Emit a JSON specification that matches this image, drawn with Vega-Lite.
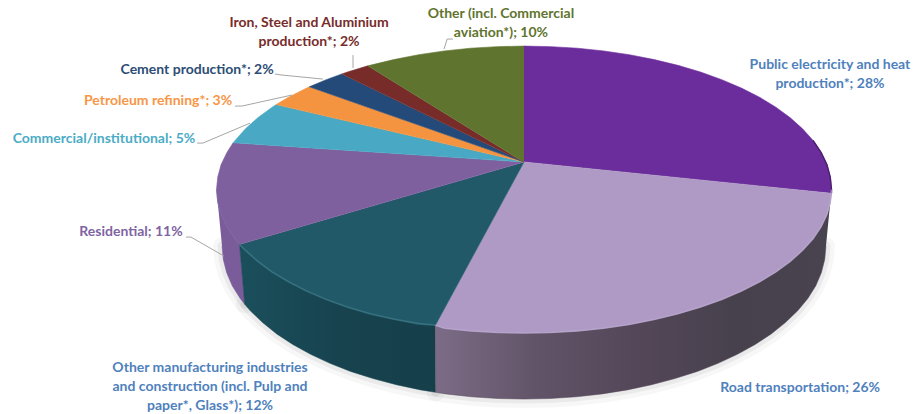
{"$schema":"https://vega.github.io/schema/vega-lite/v6.json","width":913,"height":414,"padding":0,"autosize":{"type":"none"},"background":"#ffffff","config":{"view":{"stroke":null},"font":"Lato"},
"datasets":{
"faces":[
{"slice":"Public","i":0,"u":0,"v":0.192},{"slice":"Public","i":1,"u":0,"v":1},{"slice":"Public","i":2,"u":0.087,"v":0.996},{"slice":"Public","i":3,"u":0.174,"v":0.985},{"slice":"Public","i":4,"u":0.259,"v":0.966},{"slice":"Public","i":5,"u":0.342,"v":0.94},{"slice":"Public","i":6,"u":0.423,"v":0.906},{"slice":"Public","i":7,"u":0.5,"v":0.866},{"slice":"Public","i":8,"u":0.574,"v":0.819},{"slice":"Public","i":9,"u":0.643,"v":0.766},{"slice":"Public","i":10,"u":0.707,"v":0.707},{"slice":"Public","i":11,"u":0.766,"v":0.643},{"slice":"Public","i":12,"u":0.819,"v":0.574},{"slice":"Public","i":13,"u":0.866,"v":0.5},{"slice":"Public","i":14,"u":0.906,"v":0.423},{"slice":"Public","i":15,"u":0.94,"v":0.342},{"slice":"Public","i":16,"u":0.966,"v":0.259},{"slice":"Public","i":17,"u":0.985,"v":0.174},{"slice":"Public","i":18,"u":0.996,"v":0.087},{"slice":"Public","i":19,"u":1,"v":0},{"slice":"Public","i":20,"u":1,"v":-0.026},
{"slice":"Road","i":0,"u":0,"v":0.192},{"slice":"Road","i":1,"u":1,"v":-0.026},{"slice":"Road","i":2,"u":0.996,"v":-0.087},{"slice":"Road","i":3,"u":0.985,"v":-0.174},{"slice":"Road","i":4,"u":0.966,"v":-0.259},{"slice":"Road","i":5,"u":0.94,"v":-0.342},{"slice":"Road","i":6,"u":0.906,"v":-0.423},{"slice":"Road","i":7,"u":0.866,"v":-0.5},{"slice":"Road","i":8,"u":0.819,"v":-0.574},{"slice":"Road","i":9,"u":0.766,"v":-0.643},{"slice":"Road","i":10,"u":0.707,"v":-0.707},{"slice":"Road","i":11,"u":0.643,"v":-0.766},{"slice":"Road","i":12,"u":0.574,"v":-0.819},{"slice":"Road","i":13,"u":0.5,"v":-0.866},{"slice":"Road","i":14,"u":0.423,"v":-0.906},{"slice":"Road","i":15,"u":0.342,"v":-0.94},{"slice":"Road","i":16,"u":0.259,"v":-0.966},{"slice":"Road","i":17,"u":0.174,"v":-0.985},{"slice":"Road","i":18,"u":0.087,"v":-0.996},{"slice":"Road","i":19,"u":0,"v":-1},{"slice":"Road","i":20,"u":-0.087,"v":-0.996},{"slice":"Road","i":21,"u":-0.174,"v":-0.985},{"slice":"Road","i":22,"u":-0.259,"v":-0.966},{"slice":"Road","i":23,"u":-0.288,"v":-0.945},
{"slice":"Manufacturing","i":0,"u":0,"v":0.192},{"slice":"Manufacturing","i":1,"u":-0.288,"v":-0.945},{"slice":"Manufacturing","i":2,"u":-0.342,"v":-0.935},{"slice":"Manufacturing","i":3,"u":-0.423,"v":-0.903},{"slice":"Manufacturing","i":4,"u":-0.5,"v":-0.866},{"slice":"Manufacturing","i":5,"u":-0.574,"v":-0.819},{"slice":"Manufacturing","i":6,"u":-0.643,"v":-0.766},{"slice":"Manufacturing","i":7,"u":-0.707,"v":-0.707},{"slice":"Manufacturing","i":8,"u":-0.766,"v":-0.643},{"slice":"Manufacturing","i":9,"u":-0.819,"v":-0.574},{"slice":"Manufacturing","i":10,"u":-0.866,"v":-0.5},{"slice":"Manufacturing","i":11,"u":-0.906,"v":-0.423},{"slice":"Manufacturing","i":12,"u":-0.925,"v":-0.382},
{"slice":"Residential","i":0,"u":0,"v":0.192},{"slice":"Residential","i":1,"u":-0.925,"v":-0.382},{"slice":"Residential","i":2,"u":-0.94,"v":-0.342},{"slice":"Residential","i":3,"u":-0.966,"v":-0.259},{"slice":"Residential","i":4,"u":-0.985,"v":-0.174},{"slice":"Residential","i":5,"u":-0.996,"v":-0.087},{"slice":"Residential","i":6,"u":-1,"v":0},{"slice":"Residential","i":7,"u":-0.996,"v":0.087},{"slice":"Residential","i":8,"u":-0.985,"v":0.174},{"slice":"Residential","i":9,"u":-0.966,"v":0.259},{"slice":"Residential","i":10,"u":-0.946,"v":0.326},
{"slice":"Commercial","i":0,"u":0,"v":0.192},{"slice":"Commercial","i":1,"u":-0.946,"v":0.326},{"slice":"Commercial","i":2,"u":-0.906,"v":0.423},{"slice":"Commercial","i":3,"u":-0.866,"v":0.5},{"slice":"Commercial","i":4,"u":-0.819,"v":0.574},{"slice":"Commercial","i":5,"u":-0.806,"v":0.592},
{"slice":"Petroleum","i":0,"u":0,"v":0.192},{"slice":"Petroleum","i":1,"u":-0.806,"v":0.592},{"slice":"Petroleum","i":2,"u":-0.766,"v":0.643},{"slice":"Petroleum","i":3,"u":-0.707,"v":0.707},{"slice":"Petroleum","i":4,"u":-0.698,"v":0.716},
{"slice":"Cement","i":0,"u":0,"v":0.192},{"slice":"Cement","i":1,"u":-0.698,"v":0.716},{"slice":"Cement","i":2,"u":-0.643,"v":0.766},{"slice":"Cement","i":3,"u":-0.592,"v":0.806},
{"slice":"Iron","i":0,"u":0,"v":0.192},{"slice":"Iron","i":1,"u":-0.592,"v":0.806},{"slice":"Iron","i":2,"u":-0.574,"v":0.819},{"slice":"Iron","i":3,"u":-0.508,"v":0.862},
{"slice":"Other","i":0,"u":0,"v":0.192},{"slice":"Other","i":1,"u":-0.508,"v":0.862},{"slice":"Other","i":2,"u":-0.423,"v":0.906},{"slice":"Other","i":3,"u":-0.342,"v":0.94},{"slice":"Other","i":4,"u":-0.259,"v":0.966},{"slice":"Other","i":5,"u":-0.174,"v":0.985},{"slice":"Other","i":6,"u":-0.087,"v":0.996},{"slice":"Other","i":7,"u":0,"v":1}
],
"walls":[
{"slice":"Road","part":"rim","i":0,"u":1,"v":0},{"slice":"Road","part":"rim","i":1,"u":0.996,"v":-0.087},{"slice":"Road","part":"rim","i":2,"u":0.985,"v":-0.174},{"slice":"Road","part":"rim","i":3,"u":0.966,"v":-0.259},{"slice":"Road","part":"rim","i":4,"u":0.94,"v":-0.342},{"slice":"Road","part":"rim","i":5,"u":0.906,"v":-0.423},{"slice":"Road","part":"rim","i":6,"u":0.866,"v":-0.5},{"slice":"Road","part":"rim","i":7,"u":0.819,"v":-0.574},{"slice":"Road","part":"rim","i":8,"u":0.766,"v":-0.643},{"slice":"Road","part":"rim","i":9,"u":0.707,"v":-0.707},{"slice":"Road","part":"rim","i":10,"u":0.643,"v":-0.766},{"slice":"Road","part":"rim","i":11,"u":0.574,"v":-0.819},{"slice":"Road","part":"rim","i":12,"u":0.5,"v":-0.866},{"slice":"Road","part":"rim","i":13,"u":0.423,"v":-0.906},{"slice":"Road","part":"rim","i":14,"u":0.342,"v":-0.94},{"slice":"Road","part":"rim","i":15,"u":0.259,"v":-0.966},{"slice":"Road","part":"rim","i":16,"u":0.174,"v":-0.985},{"slice":"Road","part":"rim","i":17,"u":0.087,"v":-0.996},{"slice":"Road","part":"rim","i":18,"u":0,"v":-1},{"slice":"Road","part":"rim","i":19,"u":-0.087,"v":-0.996},{"slice":"Road","part":"rim","i":20,"u":-0.174,"v":-0.985},{"slice":"Road","part":"rim","i":21,"u":-0.259,"v":-0.966},{"slice":"Road","part":"rim","i":22,"u":-0.288,"v":-0.945},
{"slice":"Road","part":"base","i":23,"u":-0.287,"v":-1.413},{"slice":"Road","part":"base","i":24,"u":-0.254,"v":-1.424},{"slice":"Road","part":"base","i":25,"u":-0.171,"v":-1.444},{"slice":"Road","part":"base","i":26,"u":-0.085,"v":-1.456},{"slice":"Road","part":"base","i":27,"u":0,"v":-1.46},{"slice":"Road","part":"base","i":28,"u":0.085,"v":-1.456},{"slice":"Road","part":"base","i":29,"u":0.171,"v":-1.444},{"slice":"Road","part":"base","i":30,"u":0.254,"v":-1.424},{"slice":"Road","part":"base","i":31,"u":0.336,"v":-1.396},{"slice":"Road","part":"base","i":32,"u":0.415,"v":-1.36},{"slice":"Road","part":"base","i":33,"u":0.491,"v":-1.317},{"slice":"Road","part":"base","i":34,"u":0.564,"v":-1.267},{"slice":"Road","part":"base","i":35,"u":0.631,"v":-1.211},{"slice":"Road","part":"base","i":36,"u":0.694,"v":-1.148},{"slice":"Road","part":"base","i":37,"u":0.752,"v":-1.079},{"slice":"Road","part":"base","i":38,"u":0.804,"v":-1.006},{"slice":"Road","part":"base","i":39,"u":0.85,"v":-0.927},{"slice":"Road","part":"base","i":40,"u":0.89,"v":-0.845},{"slice":"Road","part":"base","i":41,"u":0.923,"v":-0.759},{"slice":"Road","part":"base","i":42,"u":0.949,"v":-0.67},{"slice":"Road","part":"base","i":43,"u":0.967,"v":-0.579},{"slice":"Road","part":"base","i":44,"u":0.978,"v":-0.487},{"slice":"Road","part":"base","i":45,"u":0.982,"v":-0.394},
{"slice":"Manufacturing","part":"rim","i":0,"u":-0.288,"v":-0.945},{"slice":"Manufacturing","part":"rim","i":1,"u":-0.342,"v":-0.935},{"slice":"Manufacturing","part":"rim","i":2,"u":-0.423,"v":-0.903},{"slice":"Manufacturing","part":"rim","i":3,"u":-0.5,"v":-0.866},{"slice":"Manufacturing","part":"rim","i":4,"u":-0.574,"v":-0.819},{"slice":"Manufacturing","part":"rim","i":5,"u":-0.643,"v":-0.766},{"slice":"Manufacturing","part":"rim","i":6,"u":-0.707,"v":-0.707},{"slice":"Manufacturing","part":"rim","i":7,"u":-0.766,"v":-0.643},{"slice":"Manufacturing","part":"rim","i":8,"u":-0.819,"v":-0.574},{"slice":"Manufacturing","part":"rim","i":9,"u":-0.866,"v":-0.5},{"slice":"Manufacturing","part":"rim","i":10,"u":-0.906,"v":-0.423},{"slice":"Manufacturing","part":"rim","i":11,"u":-0.925,"v":-0.382},
{"slice":"Manufacturing","part":"base","i":12,"u":-0.908,"v":-0.8},{"slice":"Manufacturing","part":"base","i":13,"u":-0.89,"v":-0.845},{"slice":"Manufacturing","part":"base","i":14,"u":-0.85,"v":-0.927},{"slice":"Manufacturing","part":"base","i":15,"u":-0.804,"v":-1.006},{"slice":"Manufacturing","part":"base","i":16,"u":-0.752,"v":-1.079},{"slice":"Manufacturing","part":"base","i":17,"u":-0.694,"v":-1.148},{"slice":"Manufacturing","part":"base","i":18,"u":-0.631,"v":-1.211},{"slice":"Manufacturing","part":"base","i":19,"u":-0.564,"v":-1.267},{"slice":"Manufacturing","part":"base","i":20,"u":-0.491,"v":-1.317},{"slice":"Manufacturing","part":"base","i":21,"u":-0.415,"v":-1.36},{"slice":"Manufacturing","part":"base","i":22,"u":-0.336,"v":-1.396},{"slice":"Manufacturing","part":"base","i":23,"u":-0.287,"v":-1.413},
{"slice":"Residential","part":"rim","i":0,"u":-1,"v":0},{"slice":"Residential","part":"rim","i":1,"u":-0.996,"v":-0.087},{"slice":"Residential","part":"rim","i":2,"u":-0.985,"v":-0.174},{"slice":"Residential","part":"rim","i":3,"u":-0.966,"v":-0.259},{"slice":"Residential","part":"rim","i":4,"u":-0.94,"v":-0.342},{"slice":"Residential","part":"rim","i":5,"u":-0.925,"v":-0.382},
{"slice":"Residential","part":"base","i":6,"u":-0.908,"v":-0.8},{"slice":"Residential","part":"base","i":7,"u":-0.923,"v":-0.759},{"slice":"Residential","part":"base","i":8,"u":-0.949,"v":-0.67},{"slice":"Residential","part":"base","i":9,"u":-0.967,"v":-0.579},{"slice":"Residential","part":"base","i":10,"u":-0.978,"v":-0.487},{"slice":"Residential","part":"base","i":11,"u":-0.982,"v":-0.394}
],
"leaders":[
{"label":"Other","i":0,"u":-0.231,"v":1.049},{"label":"Other","i":1,"u":-0.25,"v":1.049},{"label":"Other","i":2,"u":-0.26,"v":0.979},
{"label":"Iron","i":0,"u":-0.556,"v":0.937},{"label":"Iron","i":1,"u":-0.556,"v":0.847},
{"label":"Cement","i":0,"u":-0.81,"v":0.805},{"label":"Cement","i":1,"u":-0.787,"v":0.798},{"label":"Cement","i":2,"u":-0.654,"v":0.77},
{"label":"Petroleum","i":0,"u":-0.94,"v":0.582},{"label":"Petroleum","i":1,"u":-0.917,"v":0.582},{"label":"Petroleum","i":2,"u":-0.754,"v":0.659},
{"label":"Commercial","i":0,"u":-1.063,"v":0.324},{"label":"Commercial","i":1,"u":-1.044,"v":0.324},{"label":"Commercial","i":2,"u":-0.891,"v":0.463},
{"label":"Residential","i":0,"u":-1.099,"v":-0.331},{"label":"Residential","i":1,"u":-1.083,"v":-0.331},{"label":"Residential","i":2,"u":-0.976,"v":-0.463}
],
"labels":[
{"slice":"Public","share":28,"text":"Public electricity and heat\nproduction*; 28%","u":0.995,"v":0.868},
{"slice":"Road","share":26,"text":"Road transportation; 26%","u":0.898,"v":-1.383},
{"slice":"Manufacturing","share":12,"text":"Other manufacturing industries\nand construction (incl. Pulp and\npaper*, Glass*); 12%","u":-1.021,"v":-1.244},
{"slice":"Residential","share":11,"text":"Residential; 11%","u":-1.278,"v":-0.296},
{"slice":"Commercial","share":5,"text":"Commercial/institutional; 5%","u":-1.366,"v":0.352},
{"slice":"Petroleum","share":3,"text":"Petroleum refining*; 3%","u":-1.19,"v":0.617},
{"slice":"Cement","share":2,"text":"Cement production*; 2%","u":-1.063,"v":0.833},
{"slice":"Iron","share":2,"text":"Iron, Steel and Aluminium\nproduction*; 2%","u":-0.699,"v":1.16},
{"slice":"Other","share":10,"text":"Other (incl. Commercial\naviation*); 10%","u":-0.075,"v":1.223}
]
},
"encoding":{
"x":{"field":"u","type":"quantitative","scale":{"domain":[-1.704,1.265],"nice":false,"zero":false},"axis":null},
"y":{"field":"v","type":"quantitative","scale":{"domain":[-1.564,1.321],"nice":false,"zero":false},"axis":null}
},
"layer":[
{"data":{"name":"walls"},"transform":[{"filter":"datum.part === 'base'"}],"mark":{"type":"line","stroke":"#000000","strokeOpacity":0.03,"strokeWidth":18,"strokeCap":"round"},"encoding":{"detail":{"field":"slice"},"order":{"field":"i"}}},
{"data":{"name":"walls"},"transform":[{"filter":"datum.part === 'base'"}],"mark":{"type":"line","stroke":"#000000","strokeOpacity":0.05,"strokeWidth":9,"strokeCap":"round"},"encoding":{"detail":{"field":"slice"},"order":{"field":"i"}}},
{"data":{"name":"walls"},"transform":[{"filter":"datum.slice === 'Residential'"}],"mark":{"type":"line","fill":"#7a5c9a","stroke":"#7a5c9a","strokeWidth":0.5},"encoding":{"order":{"field":"i"}}},
{"data":{"name":"walls"},"transform":[{"filter":"datum.slice === 'Manufacturing'"}],"mark":{"type":"line","fill":{"gradient":"linear","x1":0,"y1":0,"x2":1,"y2":0,"stops":[{"offset":0,"color":"#1b4f5c"},{"offset":0.5,"color":"#17434f"},{"offset":1,"color":"#153f4a"}]},"stroke":"#17434f","strokeWidth":0.5},"encoding":{"order":{"field":"i"}}},
{"data":{"name":"walls"},"transform":[{"filter":"datum.slice === 'Road'"}],"mark":{"type":"line","fill":{"gradient":"linear","x1":0,"y1":0,"x2":1,"y2":0,"stops":[{"offset":0,"color":"#7c6c87"},{"offset":0.25,"color":"#625468"},{"offset":0.5,"color":"#544759"},{"offset":0.75,"color":"#47414d"},{"offset":1,"color":"#48434e"}]},"stroke":"#544759","strokeWidth":0.5},"encoding":{"order":{"field":"i"}}},
{"data":{"name":"faces"},"mark":{"type":"line","strokeWidth":0.6},"encoding":{"detail":{"field":"slice"},"order":{"field":"i"},
"fill":{"field":"slice","legend":null,"scale":{"domain":["Public","Road","Manufacturing","Residential","Commercial","Petroleum","Cement","Iron","Other"],"range":["#6b2c9c","#af9ac5","#225968","#7f609f","#49a9c4","#f49440","#234a78","#772c2a","#5f742e"]}},
"stroke":{"field":"slice","legend":null,"scale":{"domain":["Public","Road","Manufacturing","Residential","Commercial","Petroleum","Cement","Iron","Other"],"range":["#6b2c9c","#af9ac5","#225968","#7f609f","#49a9c4","#f49440","#234a78","#772c2a","#5f742e"]}}}},
{"data":{"name":"faces"},"transform":[{"filter":"datum.slice === 'Public' && datum.i >= 15"}],"mark":{"type":"line","stroke":"#4a1f70","strokeWidth":1.4},"encoding":{"order":{"field":"i"}}},
{"data":{"name":"walls"},"transform":[{"filter":"datum.part === 'rim' && datum.slice === 'Manufacturing'"}],"mark":{"type":"line","stroke":"#3d7d8c","strokeWidth":1.8,"strokeOpacity":0.6},"encoding":{"order":{"field":"i"}}},
{"data":{"name":"walls"},"transform":[{"filter":"datum.part === 'rim' && datum.slice === 'Road'"}],"mark":{"type":"line","stroke":"#bba8cf","strokeWidth":1.6,"strokeOpacity":0.7},"encoding":{"order":{"field":"i"}}},
{"data":{"name":"leaders"},"mark":{"type":"line","stroke":"#a6a6a6","strokeWidth":1},"encoding":{"detail":{"field":"label"},"order":{"field":"i"}}},
{"data":{"name":"labels"},"mark":{"type":"text","font":"Lato","fontSize":14,"fontWeight":"bold","align":"center","baseline":"middle","lineBreak":"\n","lineHeight":19},"encoding":{"text":{"field":"text"},
"color":{"field":"slice","legend":null,"scale":{"domain":["Public","Road","Manufacturing","Residential","Commercial","Petroleum","Cement","Iron","Other"],"range":["#4f81bd","#4f81bd","#4f81bd","#8064a2","#4bacc6","#f79646","#2c4d75","#772c2a","#5f742e"]}}}}
]}
